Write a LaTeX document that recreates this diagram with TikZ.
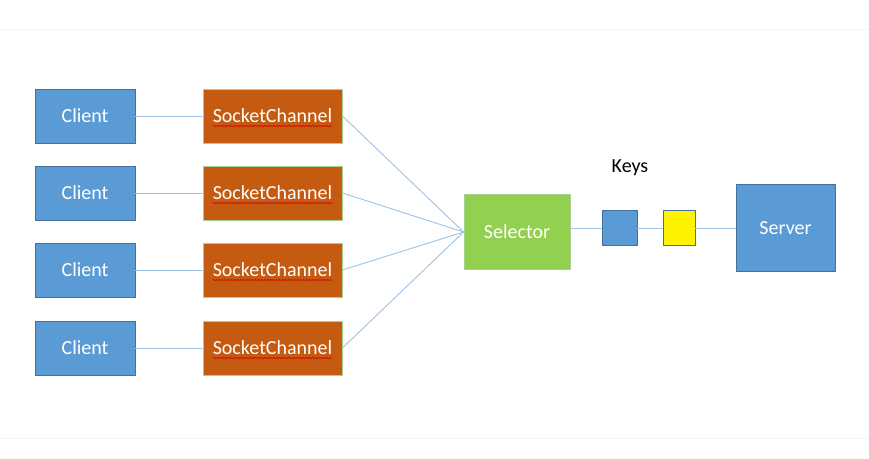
\documentclass[tikz,border=0pt]{standalone}
\usepackage{fontspec}
\setmainfont{Carlito}
\usetikzlibrary{decorations.pathmorphing}
\definecolor{cblue}{HTML}{5B9BD5}
\definecolor{cblueb}{HTML}{41719C}
\definecolor{corange}{HTML}{C55A11}
\definecolor{cgreen}{HTML}{92D050}
\definecolor{cgreenb}{HTML}{A9D18E}
\definecolor{cline}{HTML}{9DC3E6}
\tikzset{
  box/.style={draw, line width=0.8pt, minimum width=#1, inner sep=0pt, text=white, font=\fontsize{20}{24}\selectfont},
  clientbox/.style={box=100pt, minimum height=54pt, fill=cblue, draw=cblueb},
  chanbox/.style={box=139pt, minimum height=54pt, fill=corange, draw=cgreenb},
  link/.style={draw=cline, line width=0.9pt},
  squig/.style={draw=red!85!black, line width=0.5pt, decorate, decoration={snake, amplitude=0.8pt, segment length=3pt}}
}
\begin{document}
\begin{tikzpicture}[x=1pt,y=-1pt]
\useasboundingbox (0,0) rectangle (869,458);
\fill[white] (0,0) rectangle (869,458);
\draw[black!4, line width=0.6pt] (0,29) -- (869,29);
\draw[black!4, line width=0.6pt] (0,438) -- (869,438);
\foreach \i/\y in {1/116,2/193,3/270,4/348}{
  \node[clientbox] (c\i) at (85,\y) {Client};
  \node[chanbox] (s\i) at (272.5,\y) {SocketChannel};
  \draw[squig] ([xshift=-60pt,yshift=-10pt]s\i.center) -- ([xshift=60pt,yshift=-10pt]s\i.center);
}
\node[box=106pt, minimum height=75pt, fill=cgreen, draw=cgreenb] (sel) at (517,232) {Selector};
\node[box=35pt, minimum height=35pt, fill=cblue, draw=cblueb] (k1) at (619.5,228) {};
\node[box=32pt, minimum height=35pt, fill=yellow, draw=cblueb] (k2) at (679,228) {};
\node[box=99pt, minimum height=87pt, fill=cblue, draw=cblueb] (srv) at (785.5,228) {Server};
\node[font=\fontsize{20}{24}\selectfont, text=black] (keys) at (630,168) {Keys};
\foreach \i in {1,2,3,4}{
  \draw[link] (c\i.east) -- (s\i.west);
  \draw[link] (s\i.east) -- (sel.west);
}
\draw[link] (sel.east |- k1) -- (k1.west);
\draw[link] (k1.east) -- (k2.west);
\draw[link] (k2.east) -- (srv.west);
\end{tikzpicture}
\end{document}
